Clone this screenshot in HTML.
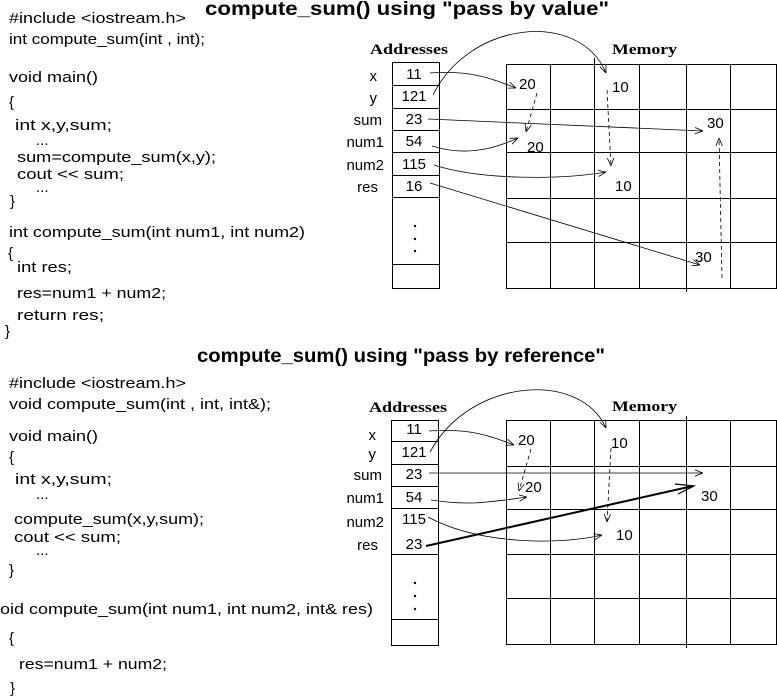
<!DOCTYPE html>
<html><head><meta charset="utf-8"><style>
html,body{margin:0;padding:0;background:#fff;}
svg{display:block;}
text{font-family:"Liberation Sans",Arial,sans-serif;font-size:15px;fill:#000;}
.t{font-weight:bold;font-size:19px;}
.h{font-family:"Liberation Serif",serif;font-weight:bold;font-size:15px;}
.n{font-size:17px;}
.a{font-size:14px;}
</style></head><body>
<svg width="777" height="697" viewBox="0 0 777 697" xmlns="http://www.w3.org/2000/svg">
<defs>
<marker id="ar" viewBox="0 0 10 10" refX="10" refY="5" markerWidth="8" markerHeight="8" orient="auto" markerUnits="userSpaceOnUse"><path d="M0,1 L10,5 L0,9" fill="none" stroke="#000" stroke-width="1"/></marker>
</defs>
<g fill="none" stroke="#000" stroke-width="1">
<rect x="392.5" y="62.5" width="47" height="226"/>
<path d="M392 85.5H440M392 108.5H440M392 130.5H440M392 152.5H440M392 175.5H440M392 197.5H440M392 264.5H440"/>
<rect x="506.5" y="64.5" width="270" height="224"/>
<path d="M506 109.5H777M506 152.5H777M506 198.5H777M506 242.5H777"/>
<path d="M550.5 64V288M594.5 58V288M639.5 64V288M686.5 64V292M730.5 64V288"/>
<rect x="391.5" y="420.5" width="47" height="225"/>
<path d="M391 441.5H439M391 464.5H439M391 486.5H439M391 508.5H439M391 554.5H439M391 619.5H439"/>
<rect x="506.5" y="420.5" width="270" height="224"/>
<path d="M506 466.5H777M506 509.5H777M506 554.5H777M506 598.5H777"/>
<path d="M550.5 420V644M594.5 420V644M639.5 420V644M686.5 416V648M730.5 420V644"/>
</g>
<g fill="none" stroke="#000" stroke-width="0.8" marker-end="url(#ar)">
<path d="M430 73 C470 70 490 78 516 88"/>
<path d="M433 95 C470 20 580 10 606 73"/>
<path d="M428 119 L703 131"/>
<path d="M432 146 C470 158 500 146 518 138"/>
<path d="M434 165 C480 180 560 180 606 172"/>
<path d="M430 183 L700 265"/>
<path d="M537 93 L526 132" stroke-dasharray="4,3"/>
<path d="M607 90 L611 166" stroke-dasharray="4,3"/>
<path d="M722 278 L719 138" stroke-dasharray="4,3"/>
<path d="M429 431 C470 428 490 436 514 445"/>
<path d="M430 452 C470 378 580 370 606 428"/>
<path d="M429 473 L703 473"/>
<path d="M431 500 C470 506 490 502 527 497"/>
<path d="M428 517 C480 545 560 545 602 535"/>
<path d="M531 449 L519 491" stroke-dasharray="4,3"/>
<path d="M611 448 L607 522" stroke-dasharray="4,3"/>
</g>
<path d="M426 546 L693 486" fill="none" stroke="#000" stroke-width="2"/>
<path d="M675 484 L694 486 L678 494" fill="none" stroke="#000" stroke-width="1.2"/>

<text class="t" x="205" y="15" textLength="404" lengthAdjust="spacingAndGlyphs">compute_sum()  using "pass by value"</text>
<text class="t" x="197" y="362" textLength="408" lengthAdjust="spacingAndGlyphs">compute_sum() using "pass by reference"</text>
<text class="h" x="370" y="54" textLength="78" lengthAdjust="spacingAndGlyphs">Addresses</text>
<text class="h" x="612" y="54" textLength="65" lengthAdjust="spacingAndGlyphs">Memory</text>
<text class="h" x="369" y="412" textLength="78" lengthAdjust="spacingAndGlyphs">Addresses</text>
<text class="h" x="612" y="411" textLength="65" lengthAdjust="spacingAndGlyphs">Memory</text>

<text x="9" y="23" textLength="177" lengthAdjust="spacingAndGlyphs">#include &lt;iostream.h&gt;</text>
<text x="9" y="44" textLength="196" lengthAdjust="spacingAndGlyphs">int compute_sum(int , int);</text>
<text x="9" y="82" textLength="89" lengthAdjust="spacingAndGlyphs">void main()</text>
<text x="9" y="107">{</text>
<text x="15" y="130" textLength="97" lengthAdjust="spacingAndGlyphs">int x,y,sum;</text>
<text x="36" y="145">...</text>
<text x="17" y="162" textLength="199" lengthAdjust="spacingAndGlyphs">sum=compute_sum(x,y);</text>
<text x="17" y="179" textLength="107" lengthAdjust="spacingAndGlyphs">cout &lt;&lt; sum;</text>
<text x="36" y="192">...</text>
<text x="10" y="206">}</text>
<text x="9" y="237" textLength="296" lengthAdjust="spacingAndGlyphs">int compute_sum(int num1, int num2)</text>
<text x="8" y="258">{</text>
<text x="17" y="272" textLength="55" lengthAdjust="spacingAndGlyphs">int res;</text>
<text x="17" y="298" textLength="149" lengthAdjust="spacingAndGlyphs">res=num1 + num2;</text>
<text x="17" y="320" textLength="87" lengthAdjust="spacingAndGlyphs">return res;</text>
<text x="5" y="336">}</text>

<g text-anchor="end">
<text x="377" y="81">x</text><text x="377" y="103">y</text><text x="382" y="125">sum</text>
<text x="384" y="147">num1</text><text x="384" y="170">num2</text><text x="378" y="192">res</text>
<text x="376" y="440">x</text><text x="376" y="459">y</text><text x="382" y="480">sum</text>
<text x="384" y="503">num1</text><text x="384" y="527">num2</text><text x="378" y="550">res</text>
</g>
<g class="a" text-anchor="middle">
<text x="414" y="79">11</text><text x="414" y="101">121</text><text x="414" y="124">23</text>
<text x="414" y="146">54</text><text x="414" y="169">115</text><text x="414" y="191">16</text>
<text x="414" y="434">11</text><text x="414" y="457">121</text><text x="414" y="479">23</text>
<text x="414" y="502">54</text><text x="414" y="524">115</text><text x="414" y="549">23</text>
</g>
<g fill="#000">
<circle cx="415" cy="226" r="1.2"/><circle cx="415" cy="239" r="1.2"/><circle cx="415" cy="251" r="1.2"/>
<circle cx="415" cy="583" r="1.2"/><circle cx="415" cy="596" r="1.2"/><circle cx="415" cy="609" r="1.2"/>
</g>
<g class="n">
<text x="519" y="89">20</text><text x="612" y="92">10</text><text x="527" y="152">20</text>
<text x="615" y="191">10</text><text x="707" y="128">30</text><text x="695" y="262">30</text>
<text x="518" y="445">20</text><text x="611" y="448">10</text><text x="525" y="492">20</text>
<text x="616" y="540">10</text><text x="701" y="501">30</text>
</g>

<text x="9" y="388" textLength="177" lengthAdjust="spacingAndGlyphs">#include &lt;iostream.h&gt;</text>
<text x="9" y="409" textLength="262" lengthAdjust="spacingAndGlyphs">void compute_sum(int , int, int&amp;);</text>
<text x="9" y="441" textLength="89" lengthAdjust="spacingAndGlyphs">void main()</text>
<text x="9" y="462">{</text>
<text x="15" y="484" textLength="97" lengthAdjust="spacingAndGlyphs">int x,y,sum;</text>
<text x="36" y="499">...</text>
<text x="14" y="524" textLength="190" lengthAdjust="spacingAndGlyphs">compute_sum(x,y,sum);</text>
<text x="14" y="542" textLength="107" lengthAdjust="spacingAndGlyphs">cout &lt;&lt; sum;</text>
<text x="36" y="555">...</text>
<text x="9" y="575">}</text>
<text x="0" y="614" textLength="373" lengthAdjust="spacingAndGlyphs">oid compute_sum(int num1, int num2, int&amp; res)</text>
<text x="9" y="643">{</text>
<text x="19" y="669" textLength="148" lengthAdjust="spacingAndGlyphs">res=num1 + num2;</text>
<text x="10" y="693">}</text>
</svg>
</body></html>
